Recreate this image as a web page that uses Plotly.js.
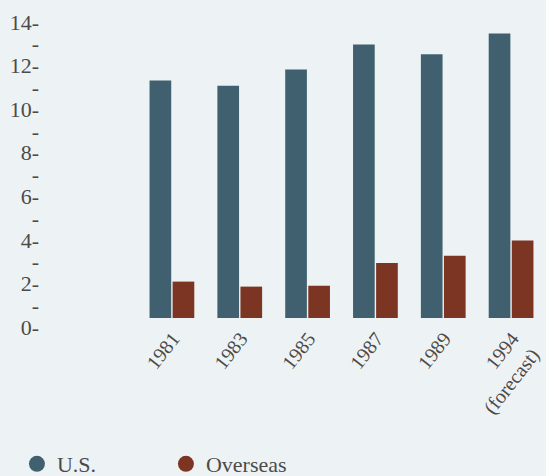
<!DOCTYPE html>
<html>
<head>
<meta charset="utf-8">
<script src="https://cdn.plot.ly/plotly-3.0.1.min.js"></script>
<style>
  html, body { margin: 0; padding: 0; background: #edf3f5; }
  #chart { width: 546px; height: 476px; }
</style>
</head>
<body>
<div id="chart"></div>
<script>
const categories = ["1981", "1983", "1985", "1987", "1989", "1994<br>(forecast)"];
const usValues = [10.9, 10.65, 11.4, 12.55, 12.1, 13.05];
const overseasValues = [1.67, 1.44, 1.48, 2.52, 2.86, 3.56];
const yTickVals = [0, 1, 2, 3, 4, 5, 6, 7, 8, 9, 10, 11, 12, 13, 14];
const yTickText = ["0-", "-", "2-", "-", "4-", "-", "6-", "-", "8-", "-", "10-", "-", "12-", "-", "14-"];
const seriesNames = ["U.S.", "Overseas"];

const usColor = "#41606f";
const osColor = "#7b3522";
const textColor = "#4d4a48";
const fontFam = "'Liberation Serif', 'DejaVu Serif', serif";

const data = [
  { type: "bar", x: categories, y: usValues, name: seriesNames[0], marker: { color: usColor }, showlegend: false },
  { type: "bar", x: categories, y: overseasValues, name: seriesNames[1], marker: { color: osColor }, showlegend: false },
  { type: "scatter", mode: "markers", x: [null], y: [null], name: seriesNames[0], marker: { color: usColor, size: 17, symbol: "circle" } },
  { type: "scatter", mode: "markers", x: [null], y: [null], name: seriesNames[1], marker: { color: osColor, size: 17, symbol: "circle" } }
];

const layout = {
  width: 546, height: 476,
  paper_bgcolor: "#edf3f5", plot_bgcolor: "#edf3f5",
  margin: { l: 138, r: 1, t: 5, b: 158, autoexpand: false },
  barmode: "group", bargap: 0.32, bargroupgap: 0.06,
  font: { family: fontFam, color: textColor, size: 22 },
  xaxis: {
    type: "category", tickangle: -52, showgrid: false, zeroline: false, showline: false,
    ticks: "", ticklabelstandoff: 4, ticklabelshift: 1, automargin: false,
    tickfont: { family: fontFam, size: 20, color: textColor }
  },
  yaxis: {
    range: [0, 14.36], tickmode: "array", tickvals: yTickVals, ticktext: yTickText,
    showgrid: false, zeroline: false, showline: false, ticks: "", automargin: false,
    ticklabelstandoff: 98, ticklabelshift: 9,
    tickfont: { family: fontFam, size: 22, color: textColor }
  },
  showlegend: true,
  legend: {
    orientation: "h", xref: "container", yref: "paper", x: 0.031, y: -0.5335,
    xanchor: "left", yanchor: "bottom", entrywidth: 104, entrywidthmode: "pixels",
    font: { family: fontFam, size: 22, color: textColor }, bgcolor: "rgba(0,0,0,0)"
  }
};

Plotly.newPlot("chart", data, layout, { displayModeBar: false, staticPlot: true });
</script>
</body>
</html>
